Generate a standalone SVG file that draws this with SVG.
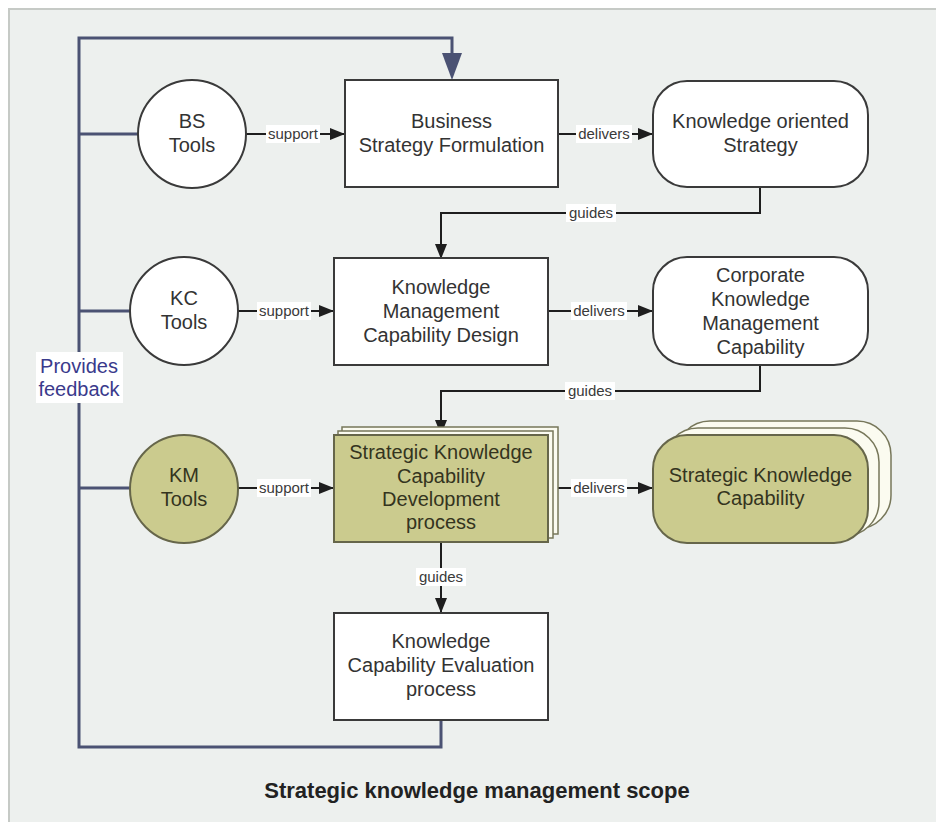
<svg xmlns="http://www.w3.org/2000/svg" width="936" height="822" viewBox="0 0 936 822">
<defs>
<style>
.node{fill:#ffffff;stroke:#3a3a3a;stroke-width:2}
.olive{fill:#cbcb8e;stroke:#66664a;stroke-width:2}
.back{fill:#fbfbf0;stroke:#77775a;stroke-width:1.5}
.t{font-family:"Liberation Sans",Arial,sans-serif;font-size:20px;fill:#333333;text-anchor:middle}
.to{font-family:"Liberation Sans",Arial,sans-serif;font-size:20px;fill:#34341e;text-anchor:middle}
.lbl{font-family:"Liberation Sans",Arial,sans-serif;font-size:15px;fill:#3a3a3a;text-anchor:middle}
.lblbg{fill:#ffffff;stroke:none}
.conn{fill:none;stroke:#1e1e1e;stroke-width:2}
.fb{fill:none;stroke:#4b5273;stroke-width:3}
</style>
<marker id="arr" markerUnits="userSpaceOnUse" markerWidth="16" markerHeight="12" refX="15" refY="6" orient="auto">
<path d="M0,0 L15,6 L0,12 z" fill="#1e1e1e"/>
</marker>
</defs>
<rect x="9" y="9" width="935" height="820" fill="#edf0ee" stroke="#c6cac6" stroke-width="2"/>

<g id="connectors">
<path class="fb" d="M441,720 V747 H79 V38 H452 V54"/>
<polygon points="442,53 462,53 452,80" fill="#4b5273"/>
<path class="fb" d="M79,134 H138"/>
<path class="fb" d="M79,311 H130"/>
<path class="fb" d="M79,488 H130"/>
<rect x="36" y="352" width="87" height="51" fill="#ffffff"/>
<text x="79" y="373" font-family="'Liberation Sans',Arial,sans-serif" font-size="20" fill="#3a3a8c" text-anchor="middle">Provides</text>
<text x="79" y="396" font-family="'Liberation Sans',Arial,sans-serif" font-size="20" fill="#3a3a8c" text-anchor="middle">feedback</text>

<path class="conn" d="M246,134 H345" marker-end="url(#arr)"/>
<rect class="lblbg" x="266" y="125" width="54" height="18"/>
<text class="lbl" x="293" y="139">support</text>
<path class="conn" d="M558,134 H653" marker-end="url(#arr)"/>
<rect class="lblbg" x="576" y="125" width="56" height="18"/>
<text class="lbl" x="604" y="139">delivers</text>

<path class="conn" d="M760,187 V213 H441 V259" marker-end="url(#arr)"/>
<rect class="lblbg" x="566" y="204" width="50" height="18"/>
<text class="lbl" x="591" y="218">guides</text>

<path class="conn" d="M238,311 H334" marker-end="url(#arr)"/>
<rect class="lblbg" x="257" y="302" width="54" height="18"/>
<text class="lbl" x="284" y="316">support</text>
<path class="conn" d="M548,311 H653" marker-end="url(#arr)"/>
<rect class="lblbg" x="571" y="302" width="56" height="18"/>
<text class="lbl" x="599" y="316">delivers</text>

<path class="conn" d="M760,365 V391 H441 V435" marker-end="url(#arr)"/>
<rect class="lblbg" x="565" y="382" width="50" height="18"/>
<text class="lbl" x="590" y="396">guides</text>

<path class="conn" d="M238,488 H334" marker-end="url(#arr)"/>
<rect class="lblbg" x="257" y="479" width="54" height="18"/>
<text class="lbl" x="284" y="493">support</text>
<path class="conn" d="M558,488 H653" marker-end="url(#arr)"/>
<rect class="lblbg" x="571" y="479" width="56" height="18"/>
<text class="lbl" x="599" y="493">delivers</text>

<path class="conn" d="M441,543 V613" marker-end="url(#arr)"/>
<rect class="lblbg" x="416" y="568" width="50" height="18"/>
<text class="lbl" x="441" y="582">guides</text>
</g>

<g id="bs-tools">
<circle class="node" cx="192" cy="134" r="54"/>
<text class="t" x="192" y="128">BS</text>
<text class="t" x="192" y="152">Tools</text>
</g>

<g id="business-strategy-formulation">
<rect class="node" x="345" y="80" width="213" height="107"/>
<text class="t" x="451.5" y="128">Business</text>
<text class="t" x="451.5" y="152">Strategy Formulation</text>
</g>

<g id="knowledge-oriented-strategy">
<rect class="node" x="653" y="81" width="215" height="106" rx="34" ry="34"/>
<text class="t" x="760.5" y="128">Knowledge oriented</text>
<text class="t" x="760.5" y="152">Strategy</text>
</g>

<g id="kc-tools">
<circle class="node" cx="184" cy="311" r="54"/>
<text class="t" x="184" y="305">KC</text>
<text class="t" x="184" y="329">Tools</text>
</g>

<g id="km-capability-design">
<rect class="node" x="334" y="258" width="214" height="107"/>
<text class="t" x="441" y="294">Knowledge</text>
<text class="t" x="441" y="318">Management</text>
<text class="t" x="441" y="342">Capability Design</text>
</g>

<g id="corporate-km-capability">
<rect class="node" x="653" y="257" width="215" height="108" rx="34" ry="34"/>
<text class="t" x="760.5" y="282">Corporate</text>
<text class="t" x="760.5" y="306">Knowledge</text>
<text class="t" x="760.5" y="330">Management</text>
<text class="t" x="760.5" y="354">Capability</text>
</g>

<g id="km-tools">
<circle class="olive" cx="184" cy="489" r="54"/>
<text class="to" x="184" y="482">KM</text>
<text class="to" x="184" y="506">Tools</text>
</g>

<g id="skc-development-process">
<rect class="back" x="342" y="427" width="216" height="107"/>
<rect class="back" x="338" y="431" width="215" height="107"/>
<rect class="olive" x="334" y="435" width="214" height="107"/>
<text class="to" x="441" y="459">Strategic Knowledge</text>
<text class="to" x="441" y="483">Capability</text>
<text class="to" x="441" y="506">Development</text>
<text class="to" x="441" y="529">process</text>
</g>

<g id="strategic-knowledge-capability">
<rect class="back" x="676" y="421" width="215" height="108" rx="34" ry="34"/>
<rect class="back" x="664" y="428" width="215" height="108" rx="34" ry="34"/>
<rect class="olive" x="653" y="435" width="215" height="108" rx="34" ry="34"/>
<text class="to" x="760.5" y="482">Strategic Knowledge</text>
<text class="to" x="760.5" y="505">Capability</text>
</g>

<g id="kc-evaluation-process">
<rect class="node" x="334" y="613" width="214" height="107"/>
<text class="t" x="441" y="648">Knowledge</text>
<text class="t" x="441" y="672">Capability Evaluation</text>
<text class="t" x="441" y="696">process</text>
</g>

<text x="477" y="798" font-family="'Liberation Sans',Arial,sans-serif" font-size="22" font-weight="bold" fill="#222222" text-anchor="middle">Strategic knowledge management scope</text>
</svg>
